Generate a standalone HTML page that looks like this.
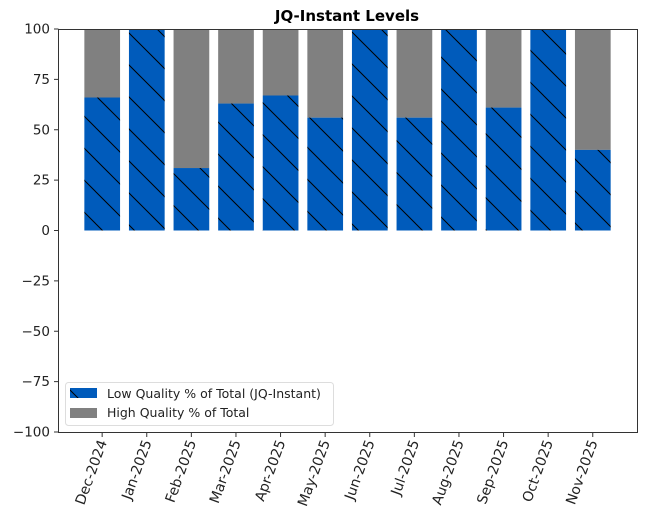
<!DOCTYPE html>
<html><head><style>body{margin:0;background:#fff}svg{display:block}text{font-family:"DejaVu Sans","Liberation Sans",sans-serif;fill:#222}</style></head>
<body>
<svg width="646" height="522" viewBox="0 0 646 522" xmlns="http://www.w3.org/2000/svg">
<defs>
<pattern id="h" patternUnits="userSpaceOnUse" width="32" height="32">
<line x1="-2" y1="-2" x2="34" y2="34" stroke="#000" stroke-width="1"/>
<line x1="-18" y1="14" x2="18" y2="50" stroke="#000" stroke-width="1"/>
<line x1="14" y1="-18" x2="50" y2="18" stroke="#000" stroke-width="1"/>
</pattern>
</defs>
<text x="347" y="21" font-size="15" font-weight="bold" text-anchor="middle" style="fill:#000">JQ-Instant Levels</text>
<g id="bars"></g>
<rect x="58.5" y="29.5" width="579" height="403" fill="none" stroke="#333" stroke-width="1"/>
<g id="yt" font-size="13.5"></g>
<g id="xt" font-size="14"></g>
<rect x="65.5" y="382.5" width="268" height="43" rx="3" fill="#fff" fill-opacity="0.8" stroke="#ddd"/>
<rect x="70" y="388" width="27" height="10" fill="#005bbb"/>
<rect x="70" y="388" width="27" height="10" fill="url(#h)"/>
<rect x="70" y="408" width="27" height="10" fill="#808080"/>
<text x="107" y="398" font-size="12.5">Low Quality % of Total (JQ-Instant)</text>
<text x="107" y="417" font-size="12.5">High Quality % of Total</text>
</svg>
<script>
const v=[66,100,31,63,67,56,100,56,100,61,100,40];
const m=["Dec-2024","Jan-2025","Feb-2025","Mar-2025","Apr-2025","May-2025","Jun-2025","Jul-2025","Aug-2025","Sep-2025","Oct-2025","Nov-2025"];
const Y=t=>230.5-t*2.015;
let b="",x="",y="";
v.forEach((d,i)=>{const c=58+(0.59+0.4+i)*44.6,l=c-17.8,w=35.7;
b+=`<rect x="${l}" y="${Y(100)}" width="${w}" height="${Y(d)-Y(100)}" fill="#808080"/>`;
b+=`<rect x="${l}" y="${Y(d)}" width="${w}" height="${Y(0)-Y(d)}" fill="#005bbb"/>`;
b+=`<rect x="${l}" y="${Y(d)}" width="${w}" height="${Y(0)-Y(d)}" fill="url(#h)"/>`;
x+=`<line x1="${c}" y1="432.5" x2="${c}" y2="437" stroke="#333"/>`;
x+=`<text transform="translate(${c+5},442) rotate(-70)" text-anchor="end">${m[i]}</text>`;});
for(let t=100;t>=-100;t-=25){y+=`<line x1="54" y1="${Y(t)}" x2="58.5" y2="${Y(t)}" stroke="#333"/><text x="50" y="${Y(t)+4.5}" text-anchor="end">${t<0?'\u2212'+(-t):t}</text>`;}
document.getElementById("bars").innerHTML=b;document.getElementById("xt").innerHTML=x;document.getElementById("yt").innerHTML=y;
</script>
</body></html>
